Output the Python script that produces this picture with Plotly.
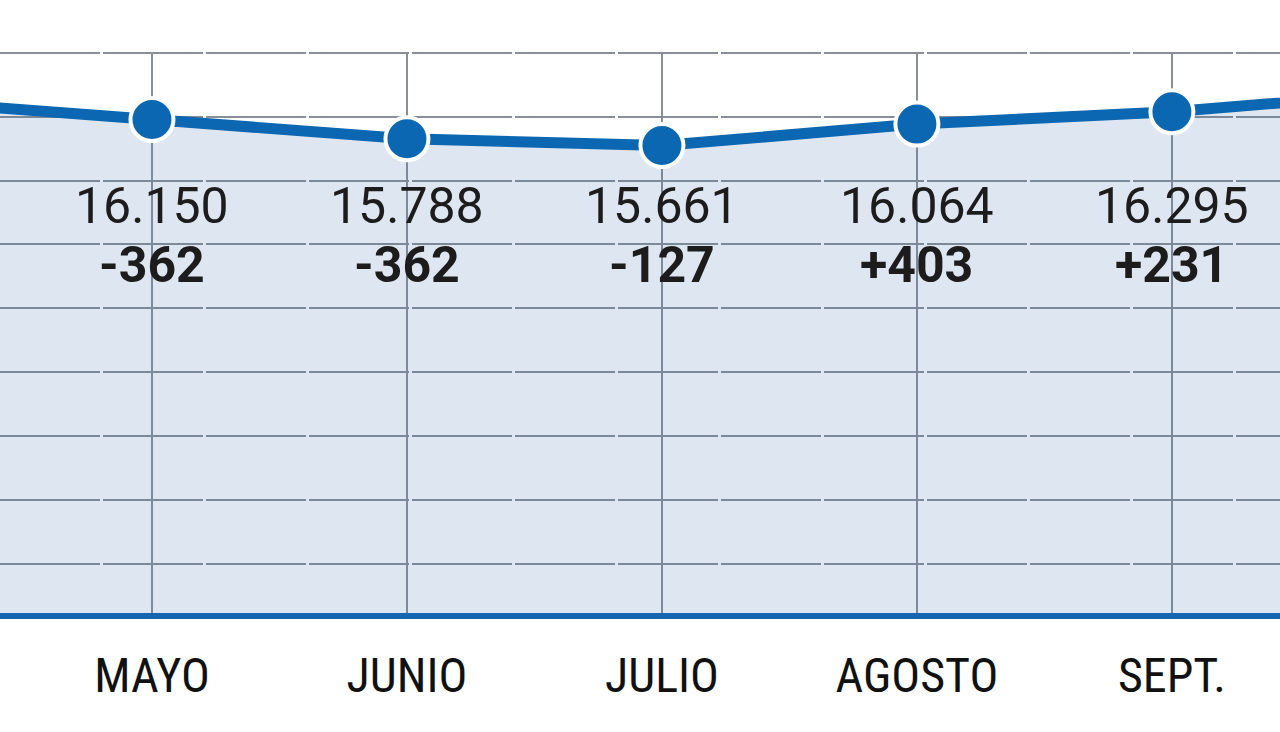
import plotly.graph_objects as go

# Months (first and last are only partially visible at the edges)
months = ["ABRIL", "MAYO", "JUNIO", "JULIO", "AGOSTO", "SEPT.", "OCT."]
values = [16512, 16150, 15788, 15661, 16064, 16295, 16690]
label_months = ["MAYO", "JUNIO", "JULIO", "AGOSTO", "SEPT."]
label_values = [16150, 15788, 15661, 16064, 16295]
label_changes = ["-362", "-362", "-127", "+403", "+231"]
grid_values = [7800 + 1200 * k for k in range(9)]

BLUE = "#0b67b1"
GRID = "#8a8e95"
TEXT = "#1c1c1c"


def fmt(v):
    return f"{v:,}".replace(",", ".")


fig = go.Figure()
fig.add_trace(go.Scatter(
    x=months, y=values, mode="lines+markers",
    line=dict(color=BLUE, width=11),
    marker=dict(size=43, color=BLUE, line=dict(color="white", width=4)),
    fill="tozeroy", fillcolor="rgba(60,110,170,0.17)",
    hoverinfo="skip", showlegend=False,
))

for m, v, c in zip(label_months, label_values, label_changes):
    fig.add_annotation(x=m, y=0.7255, yref="paper", text=fmt(v), showarrow=False,
                       xanchor="center", yanchor="middle",
                       font=dict(family="Roboto", size=50, color=TEXT))
    fig.add_annotation(x=m, y=0.6203, yref="paper", text=f"<b>{c}</b>", showarrow=False,
                       xanchor="center", yanchor="middle",
                       font=dict(family="Roboto", size=50, color=TEXT))

fig.update_layout(
    width=1280, height=732,
    margin=dict(l=0, r=0, t=52, b=119),
    paper_bgcolor="white", plot_bgcolor="white",
    xaxis=dict(
        type="category", categoryorder="array", categoryarray=months,
        range=[0.404, 5.424],
        showgrid=True, gridcolor=GRID, gridwidth=2,
        showline=True, linecolor="#1665b0", linewidth=6,
        ticks="", ticklabelstandoff=15,
        tickfont=dict(family="Roboto Condensed, Liberation Sans Narrow, Roboto",
                      size=48, color="#111111"),
        zeroline=False, fixedrange=True,
    ),
    yaxis=dict(
        range=[6870, 17420],
        tickvals=grid_values, showticklabels=False,
        showgrid=True, gridcolor=GRID, gridwidth=2, griddash="100px,3px",
        zeroline=False, showline=False, fixedrange=True,
    ),
)

fig.write_html("out.html", config={"displayModeBar": False},
               post_script="document.body.style.margin='0';")
